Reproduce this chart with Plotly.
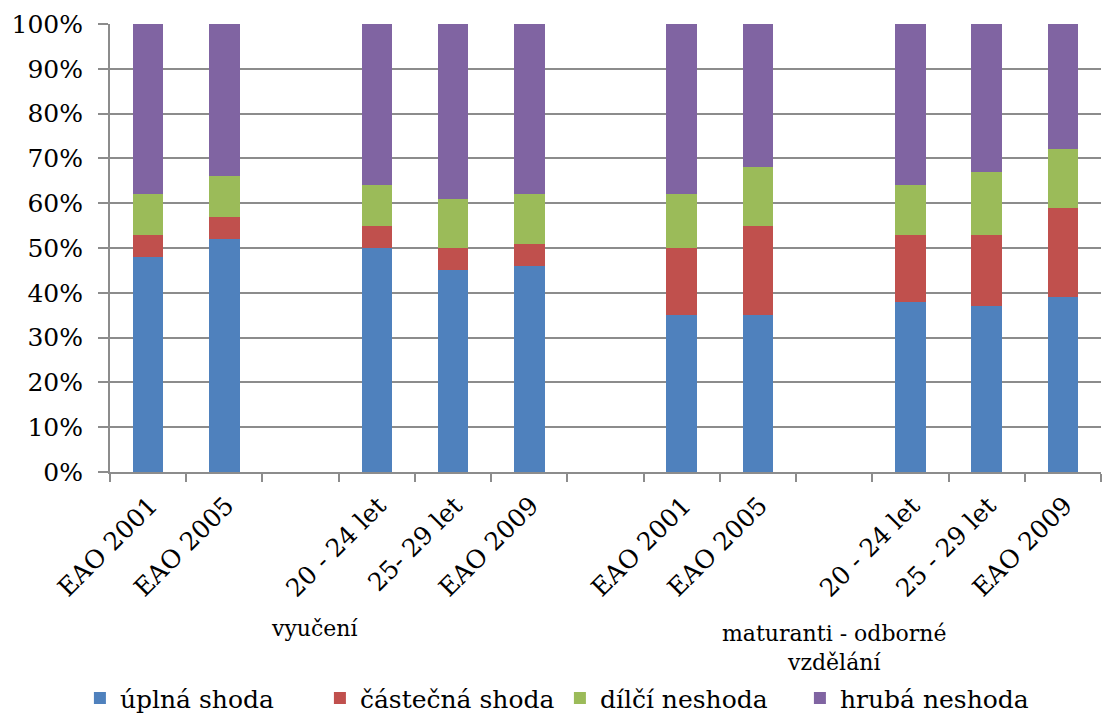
import plotly.graph_objects as go

# Category slots along the x axis (empty strings are spacer slots)
categories = ["EAO 2001", "EAO 2005", "", "20 - 24 let", "25- 29 let", "EAO 2009",
              "", "EAO 2001", "EAO 2005", "", "20 - 24 let", "25 - 29 let", "EAO 2009"]

# Shares in percent for each slot (None for spacer slots)
uplna = [48, 52, None, 50, 45, 46, None, 35, 35, None, 38, 37, 39]
castecna = [5, 5, None, 5, 5, 5, None, 15, 20, None, 15, 16, 20]
dilci = [9, 9, None, 9, 11, 11, None, 12, 13, None, 11, 14, 13]
hruba = [38, 34, None, 36, 39, 38, None, 38, 32, None, 36, 33, 28]

series_names = ["úplná shoda", "částečná shoda", "dílčí neshoda", "hrubá neshoda"]
series_colors = ["#4F81BD", "#C0504D", "#9BBB59", "#8064A2"]

group_labels = ["vyučení", "maturanti - odborné<br>vzdělání"]

FONT = "DejaVu Serif"
GRID = "#8C8C8C"

xpos = list(range(len(categories)))

fig = go.Figure()
for name, vals, color in zip(series_names, [uplna, castecna, dilci, hruba], series_colors):
    fig.add_trace(go.Bar(
        x=xpos, y=vals, name=name, width=0.4,
        marker=dict(color=color, line=dict(width=0)),
    ))

fig.update_layout(
    barmode="stack",
    width=1102, height=722,
    margin=dict(l=110, r=1, t=24, b=245),
    paper_bgcolor="white", plot_bgcolor="white",
    font=dict(family=FONT, size=24, color="black"),
    showlegend=True,
    legend=dict(orientation="h", x=0.454, xanchor="center", y=-0.505, yanchor="middle",
                font=dict(size=25, family=FONT), itemwidth=30, traceorder="normal",
                entrywidth=195, entrywidthmode="pixels"),
    xaxis=dict(
        range=[-0.5, len(categories) - 0.5],
        tickmode="array", tickvals=xpos, ticktext=categories,
        tickangle=-45, ticks="", tickfont=dict(size=25, family=FONT),
        ticklabelstandoff=7, ticklabelshift=2,
        showline=True, linecolor=GRID, linewidth=2,
        showgrid=False, zeroline=False,
        minor=dict(tickmode="linear", tick0=-0.5, dtick=1, ticks="outside",
                   ticklen=8, tickwidth=2, tickcolor=GRID, showgrid=False),
    ),
    yaxis=dict(
        range=[0, 100], dtick=10, ticksuffix="%",
        ticks="outside", ticklen=10, tickwidth=2, tickcolor=GRID,
        ticklabelstandoff=10,
        showline=True, linecolor=GRID, linewidth=2,
        showgrid=True, gridcolor=GRID, gridwidth=2,
        zeroline=False, tickfont=dict(size=25, family=FONT),
    ),
)

# Group labels under the category labels
fig.add_annotation(text=group_labels[0], x=2.19, xref="x", y=-0.349, yref="paper",
                   showarrow=False, xanchor="center", yanchor="middle",
                   font=dict(size=22, family=FONT))
fig.add_annotation(text=group_labels[1], x=9.0, xref="x", y=-0.393, yref="paper",
                   showarrow=False, xanchor="center", yanchor="middle",
                   font=dict(size=22, family=FONT))

fig.write_html("out.html")
